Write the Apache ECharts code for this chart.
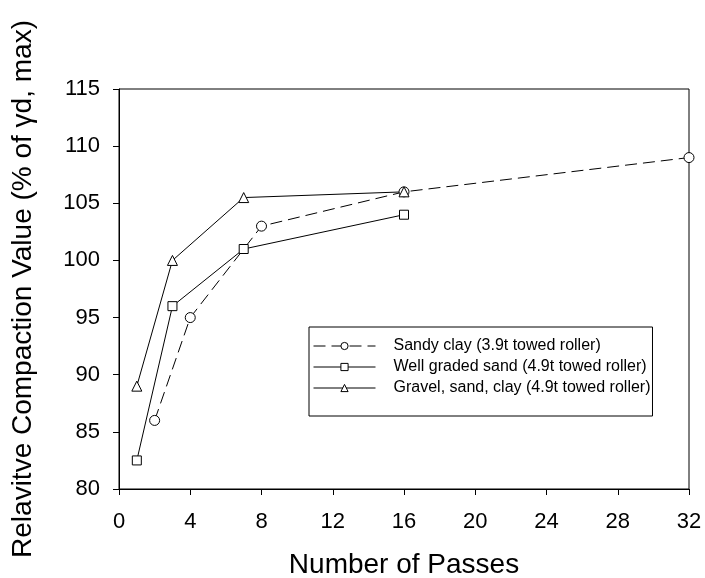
<!DOCTYPE html>
<html><head><meta charset="utf-8">
<script src="https://cdn.jsdelivr.net/npm/echarts@6/dist/echarts.min.js"></script>
<style>html,body{margin:0;padding:0;background:#fff}#c{width:705px;height:578px}</style>
</head><body><div id="c"></div>
<script>
const sandyClayX = [2, 4, 8, 16, 32];
const sandyClayY = [86, 95, 103, 106, 109];
const wellGradedX = [1, 3, 7, 16];
const wellGradedY = [82.5, 96, 101, 104];
const gravelX = [1, 3, 7, 16];
const gravelY = [89, 100, 105.5, 106];
const seriesNames = ['Sandy clay (3.9t towed roller)', 'Well graded sand (4.9t towed roller)', 'Gravel, sand, clay (4.9t towed roller)'];
const xTicks = [0, 4, 8, 12, 16, 20, 24, 28, 32];
const yTicks = [80, 85, 90, 95, 100, 105, 110, 115];

const pair = (xs, ys) => xs.map((x, i) => [x, ys[i]]);
const font = 'Liberation Sans, Arial, sans-serif';
const chart = echarts.init(document.getElementById('c'));
const base = {
  type: 'line', symbolSize: 10, showSymbol: true,
  itemStyle: { color: '#fff', borderColor: '#000', borderWidth: 1 },
  lineStyle: { color: '#000', width: 1 },
  emphasis: { disabled: true }, animation: false, z: 3
};
chart.setOption({
  animation: false,
  grid: { left: 119, top: 89, right: 16, bottom: 89, show: true, borderColor: '#000', borderWidth: 1,
    containLabel: false, outerBoundsMode: 'none' },
  legend: {
    orient: 'vertical', left: 309, top: 327, itemWidth: 62, itemHeight: 9, itemGap: 5,
    padding: [11, 2, 20, 4], borderColor: '#000', borderWidth: 1,
    lineStyle: { width: 1 },
    itemStyle: { borderWidth: 1 },
    textStyle: { fontFamily: font, fontSize: 16, color: '#000', padding: [0, 0, 0, 13] },
    data: seriesNames
  },
  xAxis: {
    type: 'value', min: 0, max: 32, interval: 4,
    name: 'Number of Passes', nameLocation: 'middle', nameGap: 62,
    nameTextStyle: { fontFamily: font, fontSize: 28, color: '#000' },
    axisLine: { lineStyle: { color: '#000' } },
    axisTick: { show: true, inside: false, length: 6, lineStyle: { color: '#000' } },
    axisLabel: { fontFamily: font, fontSize: 22, color: '#000', margin: 22 },
    splitLine: { show: false }
  },
  yAxis: {
    type: 'value', min: 80, max: 115, interval: 5,
    name: 'Relavitve Compaction Value (% of γd, max)', nameLocation: 'middle', nameGap: 82,
    nameTextStyle: { fontFamily: font, fontSize: 28, color: '#000' },
    axisLine: { lineStyle: { color: '#000' } },
    axisTick: { show: true, inside: false, length: 6, lineStyle: { color: '#000' } },
    axisLabel: { fontFamily: font, fontSize: 22, color: '#000', margin: 19 },
    splitLine: { show: false }
  },
  series: [
    Object.assign({}, base, { name: seriesNames[0], symbol: 'circle', data: pair(sandyClayX, sandyClayY),
      lineStyle: { color: '#000', width: 1, type: [12, 6] } }),
    Object.assign({}, base, { name: seriesNames[1], symbol: 'rect', symbolSize: 9, data: pair(wellGradedX, wellGradedY) }),
    Object.assign({}, base, { name: seriesNames[2], symbol: 'triangle', data: pair(gravelX, gravelY) })
  ]
});
</script></body></html>
